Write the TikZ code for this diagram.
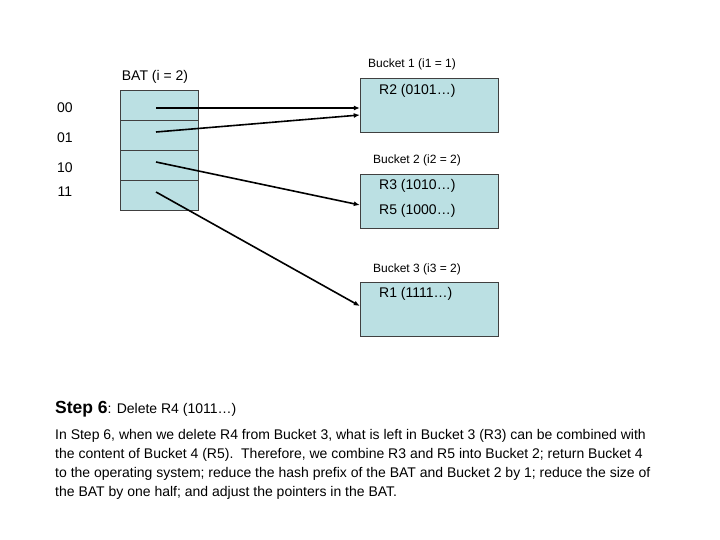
\documentclass[tikz,border=0pt]{standalone}
\usepackage{fontspec}
\setmainfont{Liberation Sans}
\usetikzlibrary{arrows.meta,positioning}
\definecolor{batblue}{RGB}{187,224,227}

\begin{document}
\begin{tikzpicture}[x=1pt, y=-1pt,
    cell/.style={draw=black!75, fill=batblue, minimum width=78pt, minimum height=30pt, inner sep=0pt, outer sep=0pt},
    bucket/.style={draw=black!75, fill=batblue, minimum width=138pt, minimum height=54pt, inner sep=0pt},
    lbl/.style={font=\fontsize{12}{14}\selectfont, inner sep=0pt},
    big/.style={font=\fontsize{14}{16}\selectfont, inner sep=0pt},
    rec/.style={big, anchor=west},
    ptr/.style={-{Latex[length=6pt,width=5pt]}, line width=1.6pt}
  ]
    \useasboundingbox (0,0) rectangle (720,540);
    % BAT
    \node[big] (batlbl) at (155,77) {BAT (i = 2)};
    \node[cell] (c00) at (159,105) {};
    \node[cell, below=0pt of c00] (c01) {};
    \node[cell, below=0pt of c01] (c10) {};
    \node[cell, below=0pt of c10] (c11) {};
    \node[big] (l00) at (65,108) {00};
    \node[big] (l01) at (65,138) {01};
    \node[big] (l10) at (65,168) {10};
    \node[big] (l11) at (65,192) {11};
    % buckets
    \node[lbl] (b1lbl) at (412,64) {Bucket 1 (i1 = 1)};
    \node[bucket] (b1) at (429,105) {};
    \node[rec] (r2) at (379,91) {R2 (0101…)};
    \node[lbl] (b2lbl) at (417,160) {Bucket 2 (i2 = 2)};
    \node[bucket] (b2) at (429,201) {};
    \node[rec] (r3) at (379,186) {R3 (1010…)};
    \node[rec] (r5) at (379,211) {R5 (1000…)};
    \node[lbl] (b3lbl) at (417,269) {Bucket 3 (i3 = 2)};
    \node[bucket] (b3) at (429,309) {};
    \node[rec] (r1) at (379,294) {R1 (1111…)};
    % pointers
    \coordinate (p00) at (156,108);
    \coordinate (p01) at (156,132);
    \coordinate (p10) at (156,162);
    \coordinate (p11) at (156,192);
    \coordinate (e1a) at (b1.west |- p00);
    \coordinate (e1b) at ([yshift=-10pt]b1.west);
    \coordinate (e2) at ([yshift=-4pt]b2.west);
    \coordinate (e3) at ([yshift=3pt]b3.west);
    \draw[ptr] (p00) -- (e1a);
    \draw[ptr] (p01) -- (e1b);
    \draw[ptr] (p10) -- (e2);
    \draw[ptr] (p11) -- (e3);
    % text
    \node[anchor=base west, inner sep=0pt] (step) at (55,413)
      {\fontsize{17.5}{18}\selectfont\bfseries Step 6\fontsize{14}{16}\selectfont\mdseries: Delete R4 (1011…)};
    \node[anchor=north west, inner sep=0pt, align=left, font=\fontsize{14}{19}\selectfont] (desc) at (55,429)
      {In Step 6, when we delete R4 from Bucket 3, what is left in Bucket 3 (R3) can be combined with\\
       the content of Bucket 4 (R5).\ \ Therefore, we combine R3 and R5 into Bucket 2; return Bucket 4\\
       to the operating system; reduce the hash prefix of the BAT and Bucket 2 by 1; reduce the size of\\
       the BAT by one half; and adjust the pointers in the BAT.};
\end{tikzpicture}
\end{document}
